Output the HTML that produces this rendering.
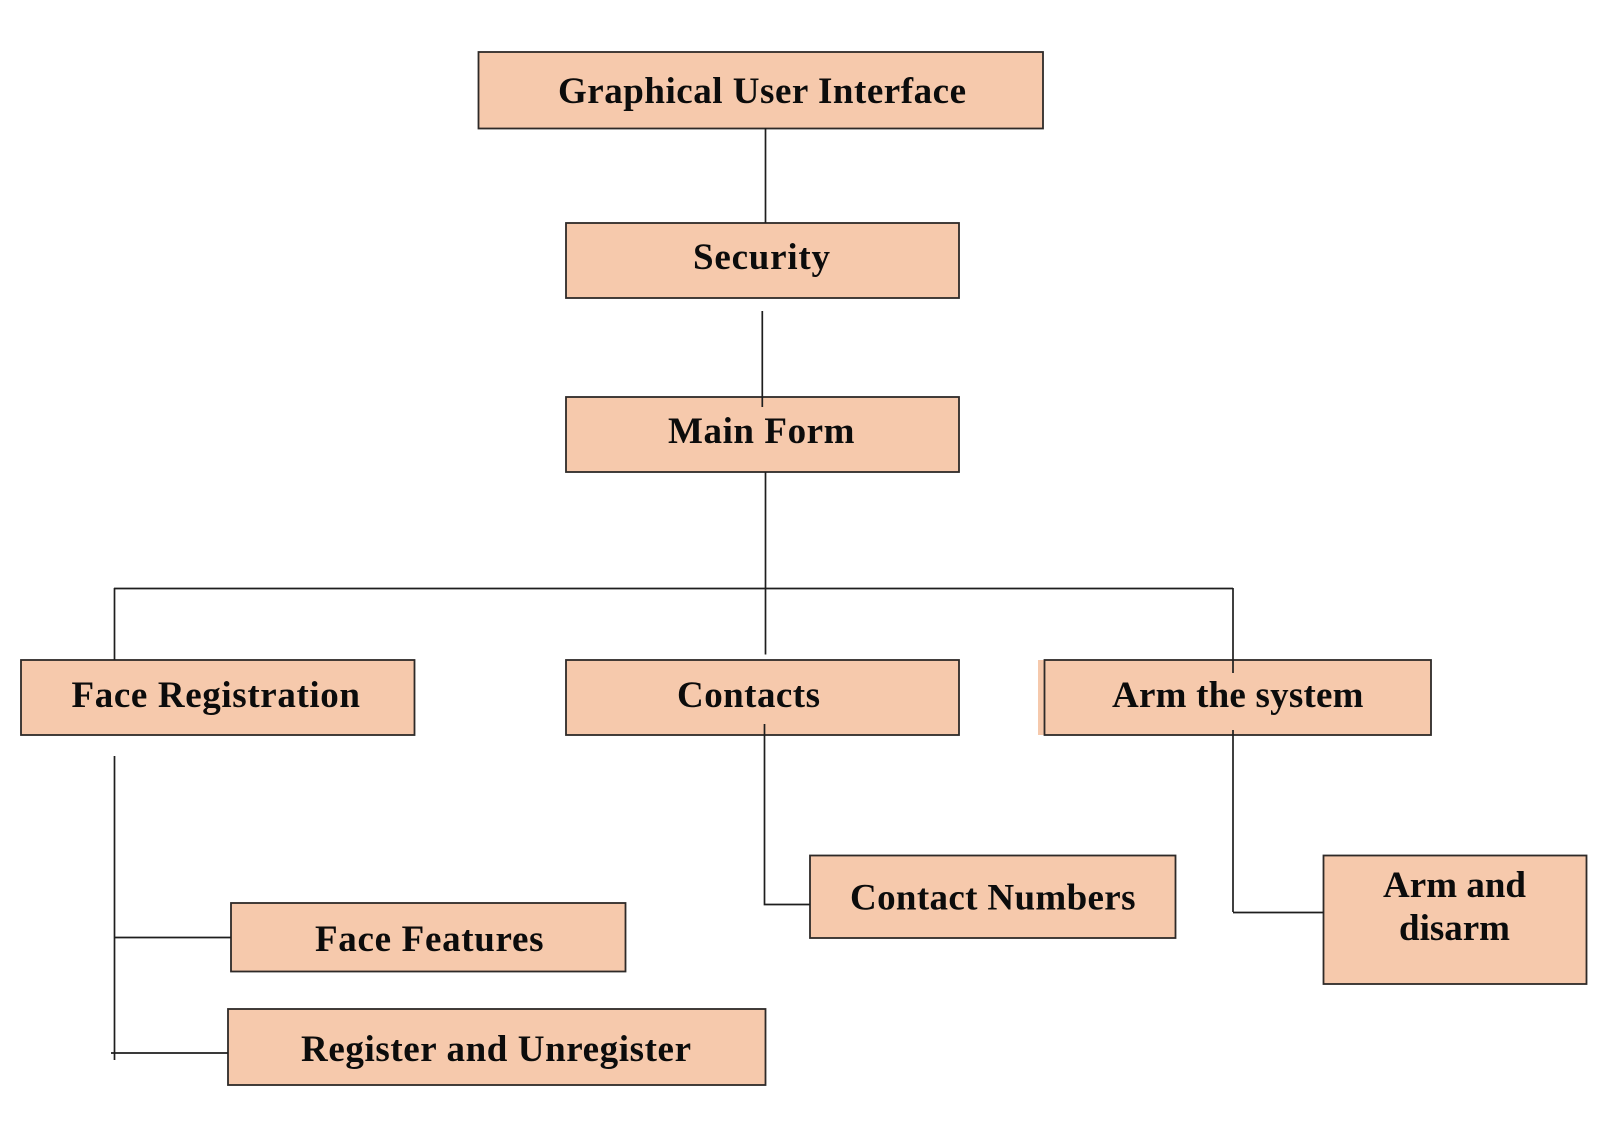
<!DOCTYPE html>
<html>
<head>
<meta charset="utf-8">
<style>
html,body{margin:0;padding:0;background:#fff;width:1624px;height:1137px;overflow:hidden}
svg{display:block}
text{font-family:"Liberation Serif",serif;font-weight:bold;font-size:37px;fill:#0c0c0c}
.b{fill:#F6C9AC;stroke:#2e2a28;stroke-width:1.8}
.l{stroke:#1e1e1e;stroke-width:1.7;fill:none}
</style>
</head>
<body>
<svg width="1624" height="1137" viewBox="0 0 1624 1137" xmlns="http://www.w3.org/2000/svg">
<rect x="0" y="0" width="1624" height="1137" fill="#fff"/>
<rect x="1038" y="660" width="8" height="75" fill="#F6C9AC"/>
<rect class="b" x="478.5" y="52" width="564.5" height="76.5"/>
<rect class="b" x="566" y="223" width="393" height="75"/>
<rect class="b" x="566" y="397" width="393" height="75"/>
<rect class="b" x="21" y="660" width="393.5" height="75"/>
<rect class="b" x="566" y="660" width="393" height="75"/>
<rect class="b" x="1044.5" y="660" width="386.5" height="75"/>
<rect class="b" x="231" y="903" width="394.5" height="68.5"/>
<rect class="b" x="228" y="1009" width="537.5" height="76"/>
<rect class="b" x="810" y="855.5" width="365.5" height="82.5"/>
<rect class="b" x="1323.5" y="855.5" width="263" height="128.5"/>
<path class="l" d="M765.5 128V223"/>
<path class="l" d="M762.3 311V407"/>
<path class="l" d="M765.5 472V654.5"/>
<path class="l" d="M114 588.5H1233"/>
<path class="l" d="M114.5 588V660"/>
<path class="l" d="M1233 588V673"/>
<path class="l" d="M764.5 724V904.5H810"/>
<path class="l" d="M1233 730V912"/>
<path class="l" d="M1233 912.5H1323.5"/>
<path class="l" d="M114.5 756V1060"/>
<path class="l" d="M114.5 937.5H231"/>
<path class="l" d="M111 1053H228"/>
<text x="558" y="103" textLength="408" lengthAdjust="spacing">Graphical User Interface</text>
<text x="693" y="269" textLength="137" lengthAdjust="spacing">Security</text>
<text x="668" y="443" textLength="186.5" lengthAdjust="spacing">Main Form</text>
<text x="71.5" y="707" textLength="288.5" lengthAdjust="spacing">Face Registration</text>
<text x="677" y="707" textLength="143" lengthAdjust="spacing">Contacts</text>
<text x="1112" y="707" textLength="251.5" lengthAdjust="spacing">Arm the system</text>
<text x="315" y="951" textLength="228.5" lengthAdjust="spacing">Face Features</text>
<text x="301" y="1061" textLength="390" lengthAdjust="spacing">Register and Unregister</text>
<text x="850" y="909.5" textLength="285.5" lengthAdjust="spacing">Contact Numbers</text>
<text x="1383" y="897" textLength="143" lengthAdjust="spacing">Arm and</text>
<text x="1399" y="940" textLength="111" lengthAdjust="spacing">disarm</text>
</svg>
</body>
</html>
